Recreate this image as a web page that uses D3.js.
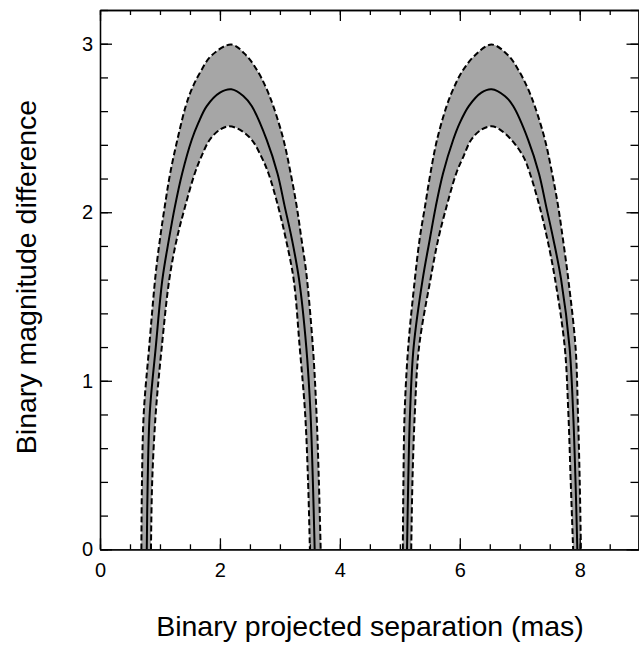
<!DOCTYPE html>
<html>
<head>
<meta charset="utf-8">
<script src="https://cdn.jsdelivr.net/npm/d3@7"></script>
<style>
  html, body { margin: 0; padding: 0; background: #fff; }
  svg { display: block; font-family: "Liberation Sans", Arial, Helvetica, sans-serif; }
  .axis path, .axis line { stroke: #000; stroke-width: 1.3; }
  .axis text { font-size: 20px; fill: #000; }
</style>
</head>
<body>
<svg id="chart" width="639" height="645"></svg>
<script>
// separation (mas) / magnitude difference pairs, left to right
const arch1Upper = [[0.69,0],[0.70,0.4],[0.73,0.81],[0.82,1.2],[0.93,1.64],[1.0,1.84],[1.08,2.035],[1.17,2.23],[1.29,2.43],[1.43,2.63],[1.53,2.73],[1.67,2.83],[1.86,2.93],[2.19,2.995],[2.44,2.93],[2.64,2.83],[2.78,2.73],[2.89,2.63],[3.06,2.43],[3.18,2.23],[3.28,2.035],[3.36,1.84],[3.44,1.64],[3.55,1.2],[3.61,0.81],[3.65,0.4],[3.68,0]];
const arch1Mid = [[0.78,0],[0.795,0.4],[0.83,0.81],[0.93,1.2],[1.04,1.6],[1.15,1.84],[1.25,2.035],[1.37,2.23],[1.53,2.43],[1.64,2.53],[1.78,2.63],[2.0,2.71],[2.19,2.73],[2.39,2.69],[2.53,2.63],[2.78,2.43],[2.96,2.23],[3.08,2.035],[3.2,1.84],[3.32,1.6],[3.44,1.2],[3.51,0.81],[3.55,0.4],[3.58,0]];
const arch1Lower = [[0.85,0],[0.87,0.4],[0.93,0.81],[1.03,1.2],[1.155,1.6],[1.28,1.84],[1.42,2.035],[1.58,2.23],[1.69,2.33],[1.83,2.43],[2.0,2.49],[2.15,2.51],[2.33,2.49],[2.53,2.43],[2.69,2.33],[2.81,2.23],[2.97,2.035],[3.10,1.84],[3.23,1.6],[3.33,1.2],[3.42,0.81],[3.47,0.4],[3.5,0]];

const arch2Upper = [[5.05,0],[5.06,0.4],[5.08,0.81],[5.14,1.2],[5.25,1.6],[5.33,1.84],[5.42,2.035],[5.51,2.23],[5.62,2.43],[5.78,2.63],[5.89,2.73],[6.03,2.83],[6.25,2.93],[6.53,2.995],[6.81,2.93],[7.0,2.83],[7.14,2.73],[7.25,2.63],[7.42,2.43],[7.54,2.23],[7.64,2.035],[7.72,1.84],[7.81,1.6],[7.93,1.2],[7.97,0.81],[8.0,0.4],[8.02,0]];
const arch2Mid = [[5.12,0],[5.14,0.4],[5.17,0.81],[5.23,1.2],[5.38,1.6],[5.5,1.84],[5.6,2.035],[5.72,2.23],[5.89,2.43],[6.0,2.53],[6.15,2.63],[6.36,2.71],[6.53,2.73],[6.75,2.69],[6.89,2.63],[7.14,2.43],[7.32,2.23],[7.44,2.035],[7.56,1.84],[7.69,1.6],[7.83,1.2],[7.89,0.81],[7.93,0.4],[7.96,0]];
const arch2Lower = [[5.19,0],[5.21,0.4],[5.25,0.81],[5.32,1.2],[5.51,1.6],[5.64,1.84],[5.78,2.035],[5.94,2.23],[6.06,2.33],[6.19,2.43],[6.36,2.49],[6.53,2.51],[6.67,2.49],[6.86,2.43],[7.06,2.33],[7.17,2.23],[7.33,2.035],[7.46,1.84],[7.59,1.6],[7.75,1.2],[7.81,0.81],[7.85,0.4],[7.89,0]];

const xMajor = [0, 2, 4, 6, 8];
const xMinor = d3.range(0, 9.01, 0.5);
const yMajor = [0, 1, 2, 3];
const yMinor = d3.range(0, 3.21, 0.2);

const svg = d3.select('#chart');
const plotLeft = 100, plotRight = 638.5, plotTop = 10, plotBottom = 549.3;

const x = d3.scaleLinear().domain([0, 8.98]).range([plotLeft, plotRight]);
const y = d3.scaleLinear().domain([0, 3.2]).range([plotBottom, plotTop]);

svg.append('clipPath').attr('id', 'plotclip')
  .append('rect').attr('x', plotLeft).attr('y', plotTop)
  .attr('width', plotRight - plotLeft).attr('height', plotBottom - plotTop);

const plot = svg.append('g').attr('clip-path', 'url(#plotclip)');

const line = d3.line().x(d => x(d[0])).y(d => y(d[1])).curve(d3.curveCatmullRom.alpha(0.5));

// grey band between the two dashed bounds
[[arch1Upper, arch1Lower], [arch2Upper, arch2Lower]].forEach(function(pair) {
  const back = pair[1].slice().reverse();
  const path = line(pair[0]) + 'L' + line(back).slice(1) + 'Z';
  plot.append('path').attr('d', path).attr('fill', '#a6a6a6').attr('stroke', 'none');
});

[arch1Upper, arch1Lower, arch2Upper, arch2Lower].forEach(function(curve) {
  plot.append('path').attr('d', line(curve))
    .attr('fill', 'none').attr('stroke', '#000').attr('stroke-width', 2)
    .attr('stroke-dasharray', '6,3');
});
[arch1Mid, arch2Mid].forEach(function(curve) {
  plot.append('path').attr('d', line(curve))
    .attr('fill', 'none').attr('stroke', '#000').attr('stroke-width', 2);
});

// axes with inward ticks on all four sides
function addAxis(axis, tx, ty, labels) {
  const g = svg.append('g').attr('class', 'axis').attr('transform', 'translate(' + tx + ',' + ty + ')').call(axis);
  if (!labels) g.selectAll('text').remove();
  return g;
}
addAxis(d3.axisBottom(x).tickValues(xMinor).tickSize(-5).tickSizeOuter(0), 0, plotBottom, false);
addAxis(d3.axisBottom(x).tickValues(xMajor).tickSize(-11).tickSizeOuter(0).tickPadding(21).tickFormat(d3.format('d')), 0, plotBottom, true)
  .selectAll('text').attr('dy', '0.32em');
addAxis(d3.axisTop(x).tickValues(xMinor).tickSize(-5).tickSizeOuter(0), 0, plotTop, false);
addAxis(d3.axisTop(x).tickValues(xMajor).tickSize(-11).tickSizeOuter(0), 0, plotTop, false);
addAxis(d3.axisLeft(y).tickValues(yMinor).tickSize(-8).tickSizeOuter(0), plotLeft, 0, false);
addAxis(d3.axisLeft(y).tickValues(yMajor).tickSize(-12).tickSizeOuter(0).tickPadding(7).tickFormat(d3.format('d')), plotLeft, 0, true);
addAxis(d3.axisRight(y).tickValues(yMinor).tickSize(-8).tickSizeOuter(0), plotRight, 0, false);
addAxis(d3.axisRight(y).tickValues(yMajor).tickSize(-12).tickSizeOuter(0), plotRight, 0, false);

svg.append('text')
  .attr('x', 370).attr('y', 636)
  .attr('text-anchor', 'middle').attr('font-size', 28.5)
  .text('Binary projected separation (mas)');
svg.append('text')
  .attr('transform', 'translate(36,277) rotate(-90)')
  .attr('text-anchor', 'middle').attr('font-size', 28.5)
  .text('Binary magnitude difference');
</script>
</body>
</html>
